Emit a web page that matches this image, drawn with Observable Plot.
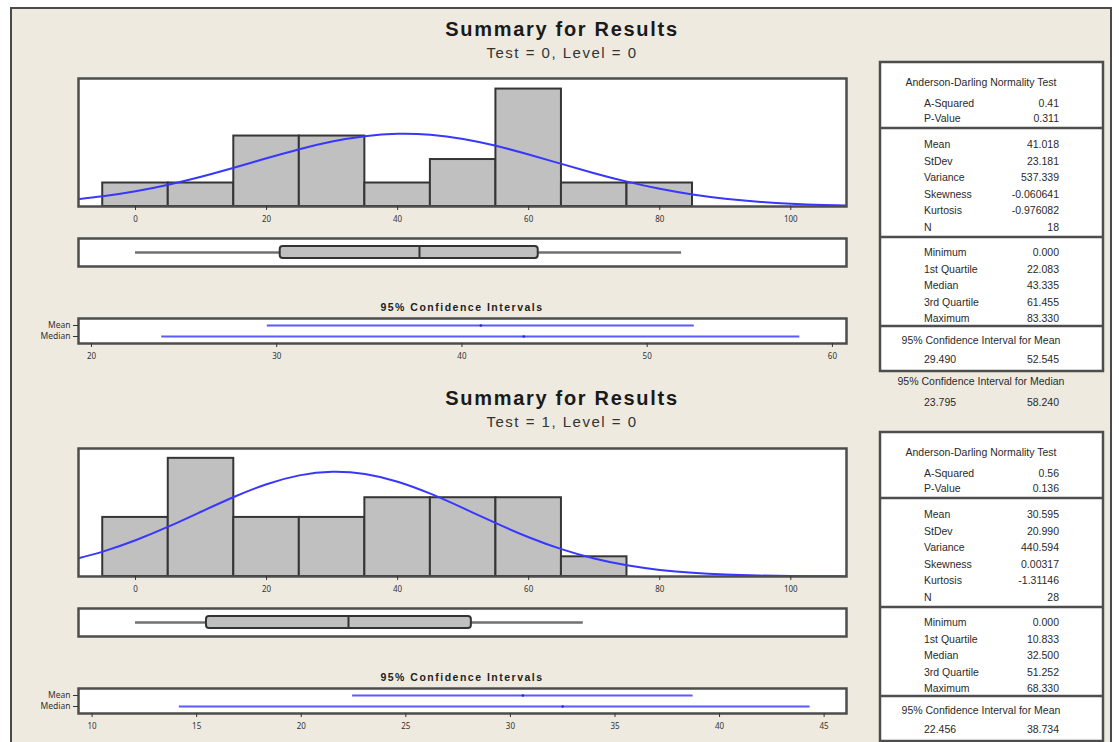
<!DOCTYPE html>
<html><head><meta charset="utf-8">
<script src="https://cdn.jsdelivr.net/npm/d3@7"></script>
<script src="https://cdn.jsdelivr.net/npm/@observablehq/plot@0.6"></script>
<style>
body{margin:0;background:#fff;font-family:"Liberation Sans",Arial,sans-serif;}
#root{position:relative;width:1119px;height:742px;overflow:hidden;background:#fff;}
#bg{position:absolute;left:10px;top:7px;width:1098px;height:760px;background:#EEEAE0;border-left:2px solid #4a4a4a;border-top:2px solid #4a4a4a;border-right:2px solid #4a4a4a;}
.abs{position:absolute;}
.abs svg{overflow:visible;background:transparent;}
</style></head><body>
<div id="root"><div id="bg"></div></div>
<script>
// ---------- data ----------
const histTicks = [0, 20, 40, 60, 80, 100];
const binCenters1 = [0, 10, 20, 30, 40, 50, 60, 70, 80, 90, 100];
const counts1 = [1, 1, 3, 3, 1, 2, 5, 1, 1, 0, 0];
const binCenters2 = [-10, 0, 10, 20, 30, 40, 50, 60, 70, 80, 90, 100];
const counts2 = [0, 3, 6, 3, 3, 4, 4, 4, 1, 0, 0, 0];
const binWidth = 10;

// fitted normal curve (count scale)
const curveX = [-10,-5,0,5,10,15,20,25,30,35,40,45,50,55,60,65,70,75,80,85,90,95,100,105,110];
const curve1 = [0.275,0.432,0.647,0.927,1.266,1.650,2.054,2.440,2.767,2.995,3.095,3.053,2.874,2.583,2.215,1.814,1.418,1.058,0.753,0.512,0.332,0.206,0.122,0.069,0.037];
const curve2 = [0.819,1.263,1.839,2.529,3.288,4.038,4.685,5.135,5.319,5.205,4.813,4.205,3.471,2.707,1.994,1.389,0.914,0.568,0.334,0.185,0.097,0.048,0.023,0.010,0.004];

// five-number summaries: min, Q1, median, Q3, max
const quant1 = [0, 22.083, 43.335, 61.455, 83.33];
const quant2 = [0, 10.833, 32.5, 51.252, 68.33];

// confidence intervals
const ciLabels = ["Mean", "Median"];
const ciTicks1 = [20, 30, 40, 50, 60];
const ciTicks2 = [10, 15, 20, 25, 30, 35, 40, 45];
const ciLow1 = [29.49, 23.795], ciHigh1 = [52.545, 58.24], ciEst1 = [41.018, 43.335];
const ciLow2 = [22.456, 14.17], ciHigh2 = [38.734, 44.33], ciEst2 = [30.595, 32.5];

// summary table text
const adLabels = ["A-Squared", "P-Value"];
const momentLabels = ["Mean", "StDev", "Variance", "Skewness", "Kurtosis", "N"];
const quantLabels = ["Minimum", "1st Quartile", "Median", "3rd Quartile", "Maximum"];
const adValues1 = ["0.41", "0.311"];
const adValues2 = ["0.56", "0.136"];
const momentValues1 = ["41.018", "23.181", "537.339", "-0.060641", "-0.976082", "18"];
const momentValues2 = ["30.595", "20.990", "440.594", "0.00317", "-1.31146", "28"];
const subtitles = ["Test = 0, Level = 0", "Test = 1, Level = 0"];

// ---------- layout ----------
const root = document.getElementById("root");
const histDomain = [-8.7, 108.5];
function place(node, left, top) {
  const d = document.createElement("div");
  d.className = "abs"; d.style.left = left + "px"; d.style.top = top + "px";
  d.appendChild(node); root.appendChild(d);
}

function histPlot(centers, counts, curveY, yMax) {
  const bins = centers.map((c, i) => ({x1: c - binWidth / 2, x2: c + binWidth / 2, n: counts[i]}));
  const curve = curveX.map((x, i) => ({x, y: curveY[i]}));
  return Plot.plot({
    width: 796, height: 166,
    marginLeft: 18, marginRight: 10, marginTop: 8, marginBottom: 30,
    x: {domain: histDomain, label: null},
    y: {domain: [0, yMax], axis: null},
    style: {background: "transparent", overflow: "visible"},
    marks: [
      Plot.frame({fill: "white", stroke: null}),
      Plot.rectY(bins, {x1: "x1", x2: "x2", y: "n", fill: "#c0c0c0", stroke: "#353535", strokeWidth: 2, clip: true}),
      Plot.line(curve, {x: "x", y: "y", stroke: "#3737ff", strokeWidth: 2, curve: "natural", clip: true}),
      Plot.frame({stroke: "#4d4d4d", strokeWidth: 2.5}),
      Plot.axisX({ticks: histTicks, tickSize: 4, tickPadding: 6, fontSize: 8, stroke: "#333", color: "#333", label: null})
    ]
  });
}

function boxPlot(q) {
  const row = [{label: "Results", min: q[0], q1: q[1], med: q[2], q3: q[3], max: q[4]}];
  return Plot.plot({
    width: 796, height: 36,
    marginLeft: 18, marginRight: 10, marginTop: 4, marginBottom: 4,
    x: {domain: histDomain, axis: null},
    y: {domain: ["Results"], padding: 0.4, axis: null},
    style: {background: "transparent", overflow: "visible"},
    marks: [
      Plot.frame({fill: "white", stroke: "#4d4d4d", strokeWidth: 2.5}),
      Plot.ruleY(row, {x1: "min", x2: "max", y: "label", stroke: "#707070", strokeWidth: 2.5}),
      Plot.barX(row, {x1: "q1", x2: "q3", y: "label", fill: "#c0c0c0", stroke: "#333", strokeWidth: 2, rx: 3}),
      Plot.tickX(row, {x: "med", y: "label", stroke: "#333", strokeWidth: 2})
    ]
  });
}

function ciPlot(domain, ticks, lo, hi, est) {
  const rows = ciLabels.map((l, i) => ({label: l, lo: lo[i], hi: hi[i], est: est[i]}));
  return Plot.plot({
    width: 848, height: 53,
    marginLeft: 70, marginRight: 10, marginTop: 4, marginBottom: 24,
    x: {domain, label: null},
    y: {type: "point", domain: ciLabels, padding: 0.55, label: null},
    style: {background: "transparent", overflow: "visible"},
    marks: [
      Plot.frame({fill: "white", stroke: "#4d4d4d", strokeWidth: 2.5}),
      Plot.ruleY(rows, {x1: "lo", x2: "hi", y: "label", stroke: "#5a5aff", strokeWidth: 2}),
      Plot.dot(rows, {x: "est", y: "label", r: 1.3, fill: "#2020ff"}),
      Plot.axisX({ticks, tickSize: 4, tickPadding: 6, fontSize: 8, stroke: "#333", color: "#333", label: null}),
      Plot.axisY({tickSize: 5, tickPadding: 3, fontSize: 8.5, stroke: "#333", color: "#333", label: null})
    ]
  });
}

const panels = [
  {dy: 0, centers: binCenters1, counts: counts1, curve: curve1, yMax: 5.45, quant: quant1,
   ciDomain: [19.3, 60.76], ciTicks: ciTicks1, lo: ciLow1, hi: ciHigh1, est: ciEst1,
   ad: adValues1, mom: momentValues1},
  {dy: 370, centers: binCenters2, counts: counts2, curve: curve2, yMax: 6.5, quant: quant2,
   ciDomain: [9.35, 46.07], ciTicks: ciTicks2, lo: ciLow2, hi: ciHigh2, est: ciEst2,
   ad: adValues2, mom: momentValues2}
];

panels.forEach(p => {
  place(histPlot(p.centers, p.counts, p.curve, p.yMax), 60, 70 + p.dy);
  place(boxPlot(p.quant), 60, 234 + p.dy);
  place(ciPlot(p.ciDomain, p.ciTicks, p.lo, p.hi, p.est), 8, 314 + p.dy);
});

// ---------- text overlay ----------
const svg = d3.select(root).append("svg")
  .attr("width", 1119).attr("height", 742)
  .style("position", "absolute").style("left", 0).style("top", 0)
  .style("font-family", '"Liberation Sans", Arial, sans-serif');

const fmt3 = d3.format(".3f");
panels.forEach((p, k) => {
  const g = svg.append("g").attr("transform", `translate(0,${p.dy})`);
  g.append("text").attr("x", 562).attr("y", 36 - (k ? 1 : 0)).attr("text-anchor", "middle")
    .attr("font-size", 20).attr("font-weight", "bold").attr("letter-spacing", 1.7).attr("fill", "#1a1a1a")
    .text("Summary for Results");
  g.append("text").attr("x", 562).attr("y", 57.5 - (k ? 1 : 0)).attr("text-anchor", "middle")
    .attr("font-size", 15).attr("letter-spacing", 1.5).attr("fill", "#333")
    .text(subtitles[k]);
  g.append("text").attr("x", 462).attr("y", 311).attr("text-anchor", "middle")
    .attr("font-size", 10.5).attr("font-weight", "bold").attr("letter-spacing", 1.5).attr("fill", "#222")
    .text("95%  Confidence Intervals");

  // summary box
  const top = 62, L = 880, R = 1103;
  g.append("rect").attr("x", L).attr("y", top).attr("width", R - L).attr("height", 309)
    .attr("fill", "white").attr("stroke", "#4d4d4d").attr("stroke-width", 2.5);
  [66, 175, 264].forEach(d => g.append("line").attr("x1", L).attr("x2", R)
    .attr("y1", top + d).attr("y2", top + d).attr("stroke", "#4d4d4d").attr("stroke-width", 2.5));
  const t = (x, yc, s, anchor) => g.append("text").attr("x", x).attr("y", top + yc + 4)
    .attr("text-anchor", anchor || "start").attr("font-size", 10.5).attr("fill", "#2a2a2a").text(s);
  t(981, 20, "Anderson-Darling Normality Test", "middle");
  const labelX = 924, valX = 1059;
  const adY = [41, 56];
  adLabels.forEach((l, i) => { t(labelX, adY[i], l); t(valX, adY[i], p.ad[i], "end"); });
  momentLabels.forEach((l, i) => { const y = 82 + i * 16.6; t(labelX, y, l); t(valX, y, p.mom[i], "end"); });
  quantLabels.forEach((l, i) => { const y = 190 + i * 16.6; t(labelX, y, l); t(valX, y, fmt3(p.quant[i]), "end"); });
  t(981, 278, "95% Confidence Interval for Mean", "middle");
  t(labelX, 297, fmt3(p.lo[0])); t(valX, 297, fmt3(p.hi[0]), "end");
  if (k === 0) {
    // the second panel's median interval text falls below the visible page in the reference
    t(981, 319, "95% Confidence Interval for Median", "middle");
    t(labelX, 340, fmt3(p.lo[1])); t(valX, 340, fmt3(p.hi[1]), "end");
  }
});
</script>
</body></html>
